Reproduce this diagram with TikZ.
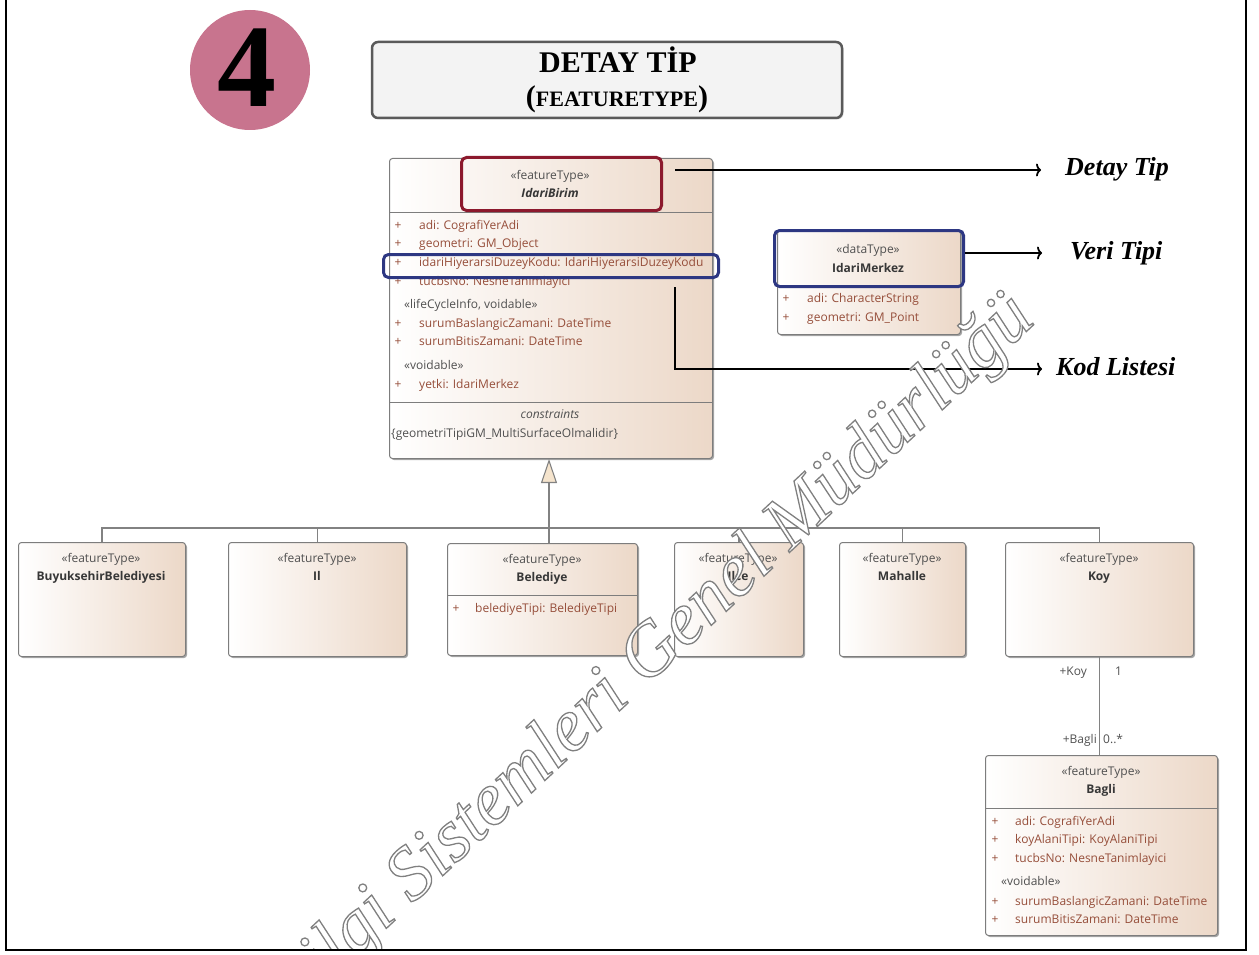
\documentclass[tikz,border=0pt]{standalone}
\usepackage{fontspec}
\setmainfont{Liberation Serif}
\newfontfamily\umlfont{Open Sans}
\usetikzlibrary{arrows.meta,shadows,calc}
\definecolor{boxborder}{RGB}{125,125,125}
\definecolor{boxbeige}{RGB}{236,216,200}
\definecolor{attrcol}{RGB}{150,78,58}
\definecolor{stereocol}{RGB}{80,80,80}
\definecolor{namecol}{RGB}{55,55,55}
\definecolor{conncol}{RGB}{130,130,130}
\definecolor{genfill}{RGB}{245,228,205}
\definecolor{circcol}{RGB}{200,116,142}
\definecolor{titlefill}{RGB}{243,243,243}
\definecolor{titledraw}{RGB}{90,90,90}
\definecolor{redmark}{RGB}{140,25,45}
\definecolor{bluemark}{RGB}{45,55,130}
\newcommand{\umlsize}{\fontsize{12}{14}\selectfont}
\tikzset{
  umlbox/.style={draw=boxborder, line width=1pt, rounded corners=3pt,
    left color=white, right color=boxbeige, inner sep=0pt, anchor=north west,
    drop shadow={shadow xshift=1.5pt, shadow yshift=-1.5pt, opacity=0.35, fill=black}},
  sepline/.style={draw=boxborder, line width=0.8pt},
  stereo/.style={font=\umlfont\umlsize, text=stereocol, inner sep=0pt, anchor=mid},
  cname/.style={font=\umlfont\bfseries\umlsize, text=namecol, inner sep=0pt, anchor=mid},
  attr/.style={font=\umlfont\umlsize, text=attrcol, inner sep=0pt, anchor=mid west},
  plus/.style={font=\umlfont\umlsize, text=attrcol, inner sep=0pt, anchor=mid},
  lstereo/.style={font=\umlfont\umlsize, text=stereocol, inner sep=0pt, anchor=mid west},
  conn/.style={draw=conncol, line width=1.1pt},
  callout/.style={draw=black, line width=1.8pt, -{Computer Modern Rightarrow[length=5pt, width=13pt]}},
  calltext/.style={font=\fontsize{26}{30}\selectfont\bfseries\itshape, inner sep=0pt, anchor=west},
  markbox/.style={line width=3pt, rounded corners=5pt, inner sep=0pt, anchor=north west},
}
\begin{document}
\begin{tikzpicture}[x=1pt, y=-1pt]
\useasboundingbox (0,0) rectangle (1259,955);

% number circle
\node[circle, fill=circcol, minimum size=120pt, inner sep=0pt] (circ) at (250,70) {};
\node[font=\fontsize{118}{118}\selectfont\bfseries, inner sep=0pt] (num) at (247,68) {4};

% title box
\node[draw=titledraw, line width=2.5pt, fill=titlefill, rounded corners=6pt,
      minimum width=470pt, minimum height=76pt, inner sep=0pt,
      drop shadow={shadow xshift=1.5pt, shadow yshift=-1.5pt, opacity=0.3}] (title) at (607,80) {};
\node[font=\fontsize{30}{34}\selectfont\bfseries, inner sep=0pt, anchor=mid] (t1) at (618,70) {DETAY TİP};
\node[font=\bfseries, inner sep=0pt, anchor=mid] (t2) at (617,104)
  {{\fontsize{30}{34}\selectfont(}{\fontsize{22}{26}\selectfont FEATURETYPE}{\fontsize{30}{34}\selectfont)}};

% IdariBirim
\node[umlbox, minimum width=323pt, minimum height=300pt] (ib) at (389,158) {};
\draw[sepline] (389,212) -- (712,212);
\draw[sepline] (389,402) -- (712,402);
\node[stereo] (ibs) at (550,177) {«featureType»};
\node[cname, font=\umlfont\bfseries\itshape\umlsize] (ibn) at (550,195) {IdariBirim};
\node[plus] (ibp1) at (398,227) {+};
\node[attr] (iba1) at (419,227) {adi: CografiYerAdi};
\node[plus] (ibp2) at (398,245) {+};
\node[attr] (iba2) at (419,245) {geometri: GM\_Object};
\node[plus] (ibp3) at (398,264) {+};
\node[attr] (iba3) at (419,264) {idariHiyerarsiDuzeyKodu: IdariHiyerarsiDuzeyKodu};
\node[plus] (ibp4) at (398,283) {+};
\node[attr] (iba4) at (419,283) {tucbsNo: NesneTanimlayici};
\node[lstereo] (ibl1) at (404,306) {«lifeCycleInfo, voidable»};
\node[plus] (ibp5) at (398,325) {+};
\node[attr] (iba5) at (419,325) {surumBaslangicZamani: DateTime};
\node[plus] (ibp6) at (398,343) {+};
\node[attr] (iba6) at (419,343) {surumBitisZamani: DateTime};
\node[lstereo] (ibl2) at (404,367) {«voidable»};
\node[plus] (ibp7) at (398,386) {+};
\node[attr] (iba7) at (419,386) {yetki: IdariMerkez};
\node[stereo, font=\umlfont\itshape\umlsize] (ibc) at (550,416) {constraints};
\node[lstereo] (ibc2) at (391,435) {\{geometriTipiGM\_MultiSurfaceOlmalidir\}};

% highlight marks
\node[markbox, draw=redmark, minimum width=200pt, minimum height=53pt] (redr) at (460,156) {};
\node[markbox, draw=bluemark, minimum width=335pt, minimum height=23pt] (bluer) at (382,253) {};

% IdariMerkez
\node[umlbox, minimum width=183pt, minimum height=104pt] (im) at (777,230) {};
\draw[sepline] (777,285) -- (960,285);
\node[stereo] (ims) at (868,251) {«dataType»};
\node[cname] (imn) at (868,270) {IdariMerkez};
\node[plus] (imp1) at (786,300) {+};
\node[attr] (ima1) at (807,300) {adi: CharacterString};
\node[plus] (imp2) at (786,319) {+};
\node[attr] (ima2) at (807,319) {geometri: GM\_Point};
\node[markbox, draw=bluemark, minimum width=189pt, minimum height=56pt] (blue2) at (773,229) {};

% callouts
\node[calltext] (lab1) at (1065,169) {Detay Tip};
\node[calltext] (lab2) at (1070,253) {Veri Tipi};
\node[calltext] (lab3) at (1056,367) {Kod Listesi};
\draw[callout] ([xshift=12pt]redr.east |- 0,170) -- ([xshift=-24pt]lab1.west |- 0,170);
\draw[callout] (blue2.east |- 0,253) -- ([xshift=-28pt]lab2.west |- 0,253);
\coordinate (kstart) at (675,287);
\draw[callout] (kstart) |- ([xshift=-14pt]lab3.west |- 0,369);

% bottom row
\node[umlbox, minimum width=167pt, minimum height=114pt] (bb) at (18,542) {};
\node[stereo] (bbs) at (101,560) {«featureType»};
\node[cname] (bbn) at (101,578) {BuyuksehirBelediyesi};
\node[umlbox, minimum width=178pt, minimum height=114pt] (il) at (228,542) {};
\node[stereo] (ils) at (317,560) {«featureType»};
\node[cname] (iln) at (317,578) {Il};
\node[umlbox, minimum width=190pt, minimum height=112pt] (bel) at (447,543) {};
\draw[sepline] (447,595) -- (637,595);
\node[stereo] (bels) at (542,561) {«featureType»};
\node[cname] (beln) at (542,579) {Belediye};
\node[plus] (belp) at (456,610) {+};
\node[attr] (bela) at (475,610) {belediyeTipi: BelediyeTipi};
\node[umlbox, minimum width=129pt, minimum height=114pt] (ilce) at (674,542) {};
\node[stereo] (ilces) at (738,560) {«featureType»};
\node[cname] (ilcen) at (738,578) {Ilce};
\node[umlbox, minimum width=126pt, minimum height=114pt] (mah) at (839,542) {};
\node[stereo] (mahs) at (902,560) {«featureType»};
\node[cname] (mahn) at (902,578) {Mahalle};
\node[umlbox, minimum width=188pt, minimum height=114pt] (koy) at (1005,542) {};
\node[stereo] (koys) at (1099,560) {«featureType»};
\node[cname] (koyn) at (1099,578) {Koy};

% generalization
\coordinate (junc) at (549,528);
\draw[conn, -{Triangle[length=24pt, width=16pt, fill=genfill]}] (junc) -- (ib.south -| junc);
\draw[conn] (bb.north) |- (junc);
\draw[conn] (il.north) |- (junc);
\draw[conn] (junc) -- (bel.north -| junc);
\draw[conn] (ilce.north) |- (junc);
\draw[conn] (mah.north) |- (junc);
\draw[conn] (koy.north) |- (junc);

% Bagli
\node[umlbox, minimum width=232pt, minimum height=180pt] (bag) at (985,755) {};
\draw[sepline] (985,808) -- (1217,808);
\node[stereo] (bags) at (1101,773) {«featureType»};
\node[cname] (bagn) at (1101,791) {Bagli};
\node[plus] (bagp1) at (995,823) {+};
\node[attr] (baga1) at (1015,823) {adi: CografiYerAdi};
\node[plus] (bagp2) at (995,841) {+};
\node[attr] (baga2) at (1015,841) {koyAlaniTipi: KoyAlaniTipi};
\node[plus] (bagp3) at (995,860) {+};
\node[attr] (baga3) at (1015,860) {tucbsNo: NesneTanimlayici};
\node[lstereo] (bagl) at (1001,883) {«voidable»};
\node[plus] (bagp4) at (995,903) {+};
\node[attr] (baga4) at (1015,903) {surumBaslangicZamani: DateTime};
\node[plus] (bagp5) at (995,921) {+};
\node[attr] (baga5) at (1015,921) {surumBitisZamani: DateTime};

% association
\draw[conn] (koy.south) -- (koy.south |- bag.north);
\node[stereo, anchor=mid east] (r1) at (1087,673) {+Koy};
\node[stereo, anchor=mid west] (m1) at (1115,673) {1};
\node[stereo, anchor=mid east] (r2) at (1097,741) {+Bagli};
\node[stereo, anchor=mid west] (m2) at (1103,741) {0..*};

% watermark (outlined text, white fill, gray stroke), clipped to the frame
\begin{scope}
\clip (6,0) rectangle (1246,950);
\node[rotate=43, font=\fontsize{75}{80}\selectfont\itshape, inner sep=0pt] (wm) at (652,656)
  {\special{pdf:literal direct 2 Tr 1.3 w 0.5 G 1 g}Bilgi Sistemleri Genel Müdürlüğü\special{pdf:literal direct 0 Tr 0 G 0 g}};
\end{scope}

% frame
\draw[line width=2pt] (6,0) -- (6,950) -- (1246,950) -- (1246,0);
\end{tikzpicture}
\end{document}
